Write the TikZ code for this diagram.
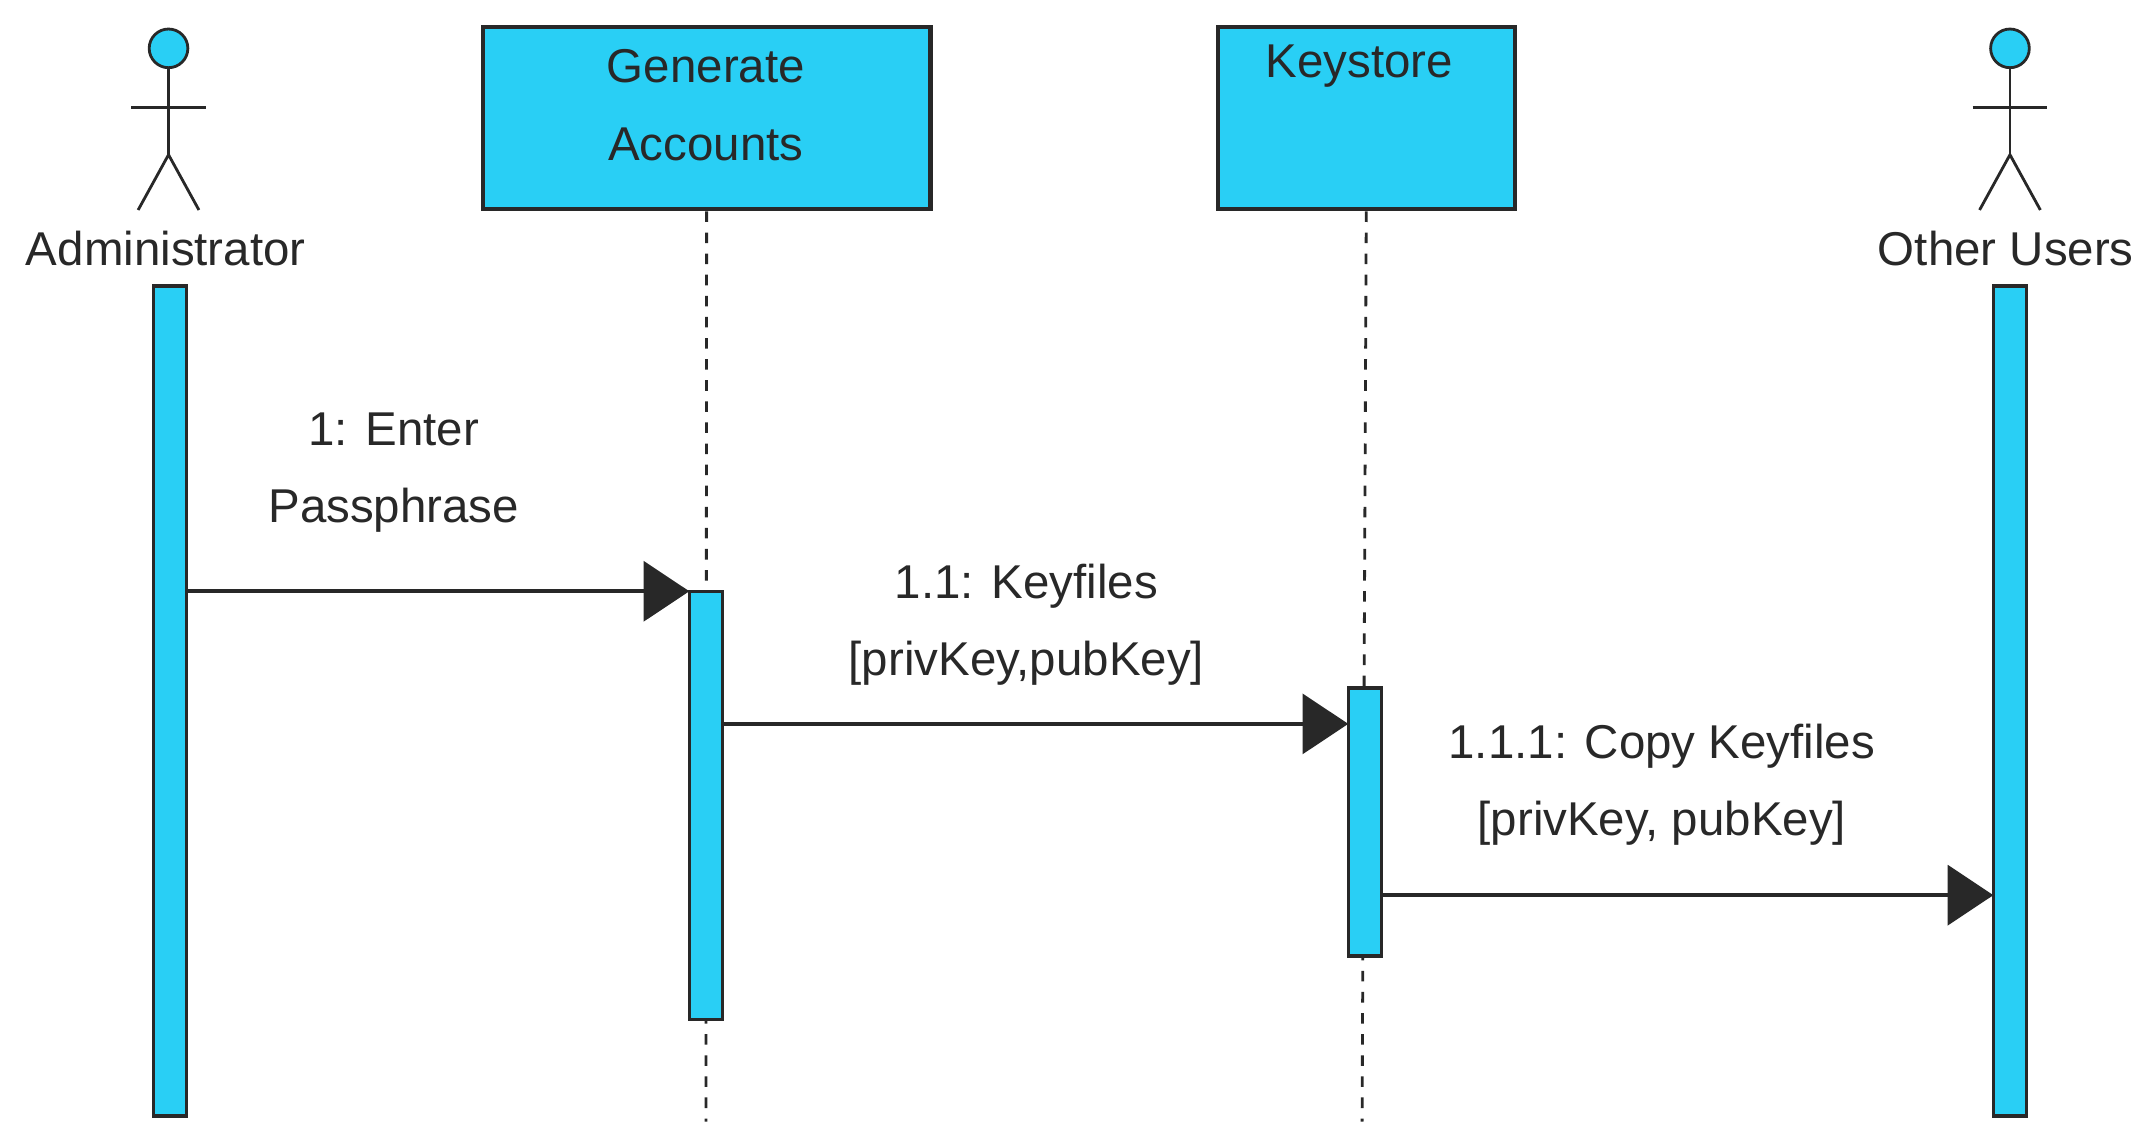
\documentclass[tikz,border=0pt]{standalone}
\usepackage{fontspec}
\setmainfont{Liberation Sans}
\usetikzlibrary{arrows.meta, positioning}
\definecolor{LifeCyan}{RGB}{41, 207, 245}
\definecolor{LineDark}{RGB}{40, 40, 40}

\begin{document}
\begin{tikzpicture}[
        x=0.01381cm, y=-0.01381cm,
        lbl/.style={font=\fontsize{13.5}{22}\selectfont, align=center, text=LineDark},
        objbox/.style={rectangle, draw=LineDark, fill=LifeCyan, line width=1.2pt, minimum width=324*0.01381cm, minimum height=132*0.01381cm, anchor=north west},
        bar/.style={draw=LineDark, fill=LifeCyan, line width=1pt},
        lifeline/.style={dashed, draw=LineDark, line width=0.8pt},
        stick/.style={draw=LineDark, line width=0.8pt},
        msg/.style={-{Triangle[length=13pt, width=17pt]}, draw=LineDark, line width=1.2pt}
    ]
        \useasboundingbox (0,0) rectangle (1560,829);

        % Actors
        \foreach \name/\cx in {admin/122, other/1455} {
            \draw[stick, fill=LifeCyan] (\cx,35) circle (14);
            \draw[stick] (\cx,49) -- (\cx,112);
            \draw[stick] (\cx-27,78) -- (\cx+27,78);
            \draw[stick] (\cx-22,152) -- (\cx,112) -- (\cx+22,152);
        }
        \node[lbl] (adminlbl) at (120,180) {Administrator};
        \node[lbl] (otherlbl) at (1452,180) {Other Users};

        % Objects
        \node[objbox] (gen) at (348,18) {};
        \node[lbl] at (511,76) {Generate\\Accounts};
        \node[objbox, minimum width=215*0.01381cm] (ks) at (880,18) {};
        \node[lbl] at (984,48) {Keystore};

        % Lifelines
        \coordinate (genend) at (511,812);
        \coordinate (ksend) at (986,812);
        \draw[lifeline] (gen.south) -- (genend);
        \draw[lifeline] (ks.south) -- (ksend);

        % Bars
        \draw[bar] (111,207) rectangle (135,808);
        \draw[bar] (1443,207) rectangle (1467,808);
        \draw[bar] (499,428) rectangle (523,738);
        \draw[bar] (976,498) rectangle (1000,692);

        \coordinate (m1a) at (135,428);  \coordinate (m1b) at (499,428);
        \coordinate (m2a) at (523,524);  \coordinate (m2b) at (976,524);
        \coordinate (m3a) at (1000,648); \coordinate (m3b) at (1443,648);

        % Messages
        \draw[msg] (m1a) -- (m1b);
        \draw[msg] (m2a) -- (m2b);
        \draw[msg] (m3a) -- (m3b);
        \node[lbl] at (285,342) {1: Enter\\Passphrase};
        \node[lbl] at (743,452) {1.1: Keyfiles\\{[privKey,pubKey]}};
        \node[lbl] at (1203,568) {1.1.1: Copy Keyfiles\\{[privKey, pubKey]}};
    \end{tikzpicture}
\end{document}
